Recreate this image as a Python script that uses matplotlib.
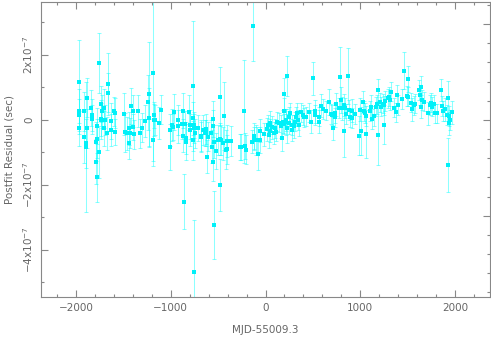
import numpy as np
import matplotlib
matplotlib.use('Agg')
import matplotlib.pyplot as plt
from matplotlib.ticker import MultipleLocator, FuncFormatter, NullFormatter

# days relative to MJD 55009.3
mjd = [-1965, -1965, -1963, -1963, -1919, -1916, -1897, -1895, -1884, -1884,
       -1840, -1832, -1825, -1789, -1789, -1782, -1780, -1775, -1758, -1754,
       -1740, -1737, -1730, -1727, -1705, -1705, -1692, -1660, -1660, -1667,
       -1632, -1628, -1600, -1590, -1588, -1492, -1482, -1465, -1437, -1433,
       -1435, -1421, -1400, -1400, -1386,
       -1340, -1319, -1302, -1267, -1235, -1228, -1228, -1186, -1186, -1176,
       -1168, -1172, -1123, -1102, -1011, -1008, -989, -975, -961, -923,
       -919, -877, -867, -867, -850, -842, -835, -856, -807, -800,
       -793, -765, -765, -758, -755, -765, -745, -758, -716, -684,
       -677, -656, -635, -632, -628, -621, -607, -579, -558, -558,
       -561, -551, -544, -544, -526, -502, -484, -484, -481, -467,
       -453, -439, -421, -411, -405, -361, -267, -257, -224, -214,
       -207, -147, -126, -119, -129, -95, -88, -81, -60, -60, -18,
       18, 30, 35, 49, 49, 70, 85, 98, 110, 123, 147, 160, 175, 186, 193, 193,
       200, 221, 221, 228, 228, 252, 252, 263, 277, 280, 298, 316, 326, 333,
       347, 351, 379, 393, 410, 428, 463, 484, 498, 519, 526, 561, 565, 589,
       603, 639, 666, 688,
       702, 712, 732, 735, 740, 770, 782, 800, 810, 824, 833, 838, 853, 874,
       880, 893, 910, 912, 947, 982, 993, 1011, 1024, 1035, 1045, 1056, 1063,
       1098, 1112, 1126, 1140, 1161, 1175, 1182, 1182, 1203, 1218, 1235, 1250,
       1263, 1253, 1288, 1300, 1310, 1323, 1358,
       1379, 1389, 1402, 1445, 1466, 1491, 1502, 1502, 1537, 1550, 1565, 1579,
       1614, 1625, 1635, 1645, 1655, 1674, 1719, 1733, 1747, 1761, 1782, 1793,
       1807, 1853, 1866, 1877, 1898, 1910, 1930, 1932, 1940, 1950, 1965, 1930]

# residuals in units of 1e-7 s
res = [1.18, 0.26, 0.15, -0.26, -0.53, 0.26, -0.72, -0.82, 0.69, -0.26,
       0.37, 0.15, 0.02, -0.67, -1.28, -1.77, -0.18, -0.58, -1.0, 1.75,
       0.0, 0.02, 0.48, 0.26, 0.36, -0.26, 0.0, 1.1, 0.84, -0.41,
       -0.03, -0.31, 0.26, 0.21, -0.38, 0.18, -0.38, -0.41, -0.26, -0.4,
       -0.7, 0.43, 0.28, -0.22, -0.44,
       0.28, -0.41, -0.24, -0.03, 0.54, 0.79, 0.07, 1.44, -0.62, 0.0,
       0.0, 0.14, -0.1, 0.31, -0.84, -0.31, -0.15, -0.22, 0.25, -0.2,
       0.0, -0.13, 0.29, -0.48, -0.13, -0.69, -0.56, -2.52, 0.23, -0.15,
       -0.31, 1.03, 0.05, -0.15, -0.26, -0.62, -0.41, -4.69, -0.26, -0.51,
       -0.49, -0.31, -0.39, -0.28, -0.41, -1.13, -0.51, -0.39, 0.02, -0.2,
       -0.82, -1.29, -3.23, -0.67, -0.95, -0.62, 0.72, -0.58, -2.0, -0.62,
       -0.72, 0.13, -0.92, -0.9, -0.65, -0.65, -0.82, -0.84, 0.26, -0.8,
       -0.92, -0.67, -0.49, -0.56, 2.89, -0.62, -0.62, -1.05, -0.33, -0.62, -0.44,
       -0.29, -0.15, -0.46, -0.08, -0.33, -0.23, -0.4, -0.26, -0.36, -0.05, -0.08, -0.2, -0.56, -0.05, 0.79, 0.29,
       -0.12, 0.0, -0.05, 1.36, -0.26, 0.1, -0.08, 0.21, -0.31, -0.15, -0.2, -0.05, 0.1, 0.21,
       0.0, -0.15, 0.23, 0.15, 0.08, 0.1, 0.23, -0.05, 1.28, 0.26, 0.15, -0.05, 0.1, 0.44,
       0.33, 0.29, 0.54, 0.18,
       0.15, -0.26, 0.21, 0.08, 0.48, 0.36, 1.31, 0.62, 0.36, -0.34, 0.46, 0.37, 0.18, 1.35,
       0.31, 0.08, 0.06, 0.29, 0.18, -0.48, 0.31, -0.34, 0.55, 0.28, 0.21, 0.12, -0.43,
       0.28, 0.41, 0.03, 0.12, 0.41, 0.48, 0.92, -0.45, 0.54, 0.41, 0.5, 0.45,
       0.58, -0.15, 0.66, 0.72, 0.6, 0.87, 0.38,
       0.23, 0.77, 0.46, 0.64, 1.52, 0.74, 1.25, 0.72, 0.53, 0.33, 0.45, 0.5,
       0.92, 0.77, 1.0, 0.41, 0.62, 0.56, 0.2, 0.46, 0.53, 0.41, 0.48, 0.2,
       0.2, 0.92, 0.43, 0.28, 0.33, 0.15, 0.69, 0.12, -0.1, 0.0, 0.23, -1.38]

err = [1.28, 0.7, 0.5, 0.55, 0.8, 0.6, 0.75, 2.0, 0.6, 0.6,
       0.55, 0.5, 0.45, 0.6, 0.7, 0.75, 0.55, 0.6, 0.8, 0.92,
       0.6, 0.5, 0.55, 0.5, 0.6, 0.55, 0.45, 0.96, 0.6, 0.5,
       0.55, 0.5, 0.45, 0.45, 0.4, 0.65, 0.6, 0.5, 0.5, 0.45,
       0.5, 0.55, 0.5, 0.4, 0.45,
       0.5, 0.45, 0.45, 0.5, 0.85, 1.6, 0.9, 2.86, 0.65, 0.5,
       0.45, 0.4, 0.5, 0.45, 0.7, 0.5, 0.5, 0.4, 0.55, 0.5,
       0.45, 0.45, 0.55, 0.5, 0.4, 0.55, 0.5, 0.85, 0.55, 0.45,
       0.5, 2.0, 0.5, 0.4, 0.45, 0.6, 0.45, 1.6, 0.4, 0.45,
       0.5, 0.45, 0.4, 0.45, 0.4, 0.5, 0.45, 0.4, 0.55, 0.5,
       0.5, 0.6, 1.05, 0.5, 0.55, 0.45, 0.9, 0.5, 0.8, 0.45,
       0.5, 1.05, 0.6, 0.45, 0.5, 0.45, 0.4, 0.4, 1.6, 0.4,
       0.45, 0.35, 0.4, 0.35, 1.07, 0.45, 0.4, 0.5, 0.35, 0.4, 0.35,
       0.35, 0.3, 0.4, 0.35, 0.35, 0.35, 0.35, 0.3, 0.3, 0.3, 0.3, 0.35, 0.4, 0.35, 0.5, 0.4,
       0.3, 0.35, 0.4, 0.62, 0.45, 0.3, 0.35, 0.3, 0.35, 0.3, 0.35, 0.3, 0.3, 0.3,
       0.3, 0.35, 0.3, 0.3, 0.3, 0.3, 0.3, 0.35, 0.5, 0.35, 0.3, 0.35, 0.3, 0.35,
       0.3, 0.3, 0.4, 0.3,
       0.3, 0.35, 0.3, 0.3, 0.35, 0.3, 0.95, 0.4, 0.35, 0.8, 0.35, 0.3, 0.3, 0.85,
       0.3, 0.3, 0.3, 0.35, 0.3, 0.6, 0.35, 0.75, 0.35, 0.3, 0.3, 0.3, 0.75,
       0.3, 0.35, 0.3, 0.3, 0.3, 0.3, 0.35, 0.93, 0.3, 0.3, 0.3, 0.3,
       0.3, 0.6, 0.3, 0.3, 0.3, 0.3, 0.3,
       0.3, 0.3, 0.3, 0.3, 0.58, 0.3, 0.4, 0.3, 0.3, 0.35, 0.3, 0.3,
       0.3, 0.3, 0.35, 0.35, 0.3, 0.3, 0.35, 0.3, 0.3, 0.3, 0.3, 0.3,
       0.3, 0.35, 0.3, 0.3, 0.35, 0.3, 0.5, 0.3, 0.35, 0.3, 0.35, 0.83]

x = np.array(mjd, dtype=float)
y = np.array(res) * 1e-7
e = np.array(err) * 1e-7

fg = '#666666'
plt.rcParams['font.family'] = 'DejaVu Sans'
plt.rcParams['font.size'] = 7.5

fig = plt.figure(figsize=(4.91, 3.44), dpi=100)
ax = fig.add_axes([41 / 491, 47 / 344, 449 / 491, 295 / 344])

ax.errorbar(x, y, yerr=e, fmt='none', ecolor='#00ffff', elinewidth=0.75,
            capsize=1.3, capthick=0.75, alpha=0.45)
ax.plot(x, y, 's', color='#00f0f8', markersize=2.3, markeredgewidth=0)

ax.set_xlim(-2368, 2368)
ax.set_ylim(-5.45e-7, 3.63e-7)

ax.xaxis.set_major_locator(MultipleLocator(1000))
ax.xaxis.set_minor_locator(MultipleLocator(200))
ax.yaxis.set_major_locator(MultipleLocator(2e-7))
ax.yaxis.set_minor_locator(MultipleLocator(1e-7))


def yfmt(v, pos):
    m = int(round(v / 1e-7))
    if m == 0:
        return '0'
    return ('\u2212' if m < 0 else '') + f'{abs(m)}x10$^{{\u22127}}$'


ax.yaxis.set_major_formatter(FuncFormatter(yfmt))
ax.xaxis.set_major_formatter(FuncFormatter(lambda v, p: f'{int(v)}'.replace('-', '\u2212')))

ax.tick_params(axis='both', which='both', direction='in', colors='#888888', labelcolor=fg)
ax.tick_params(axis='x', which='both', top=True)
ax.tick_params(which='major', length=5, width=0.8)
ax.tick_params(which='minor', length=2.5, width=0.8)
ax.tick_params(axis='x', pad=4)
ax.tick_params(axis='y', pad=4.5, right=False)
for lbl in ax.get_yticklabels():
    lbl.set_rotation(90)
    lbl.set_va('center')
for s in ax.spines.values():
    s.set_color('#888888')
    s.set_linewidth(0.8)

# right-hand axis ticks (different scale, unlabeled)
ax2 = ax.twinx()
k = 2.95e-7
ax2.set_ylim(-5.45e-7 / k, 3.63e-7 / k)
ax2.yaxis.set_major_locator(MultipleLocator(1))
ax2.yaxis.set_minor_locator(MultipleLocator(0.2))
ax2.yaxis.set_major_formatter(NullFormatter())
ax2.tick_params(axis='y', which='both', direction='in', colors='#888888')
ax2.tick_params(which='major', length=5, width=0.8)
ax2.tick_params(which='minor', length=2.5, width=0.8)
for s in ax2.spines.values():
    s.set_visible(False)

ax.set_xlabel('MJD-55009.3', color=fg, labelpad=9)
ax.set_ylabel('Postfit Residual (sec)', color=fg, labelpad=5)

fig.savefig('out.png', dpi=100)
